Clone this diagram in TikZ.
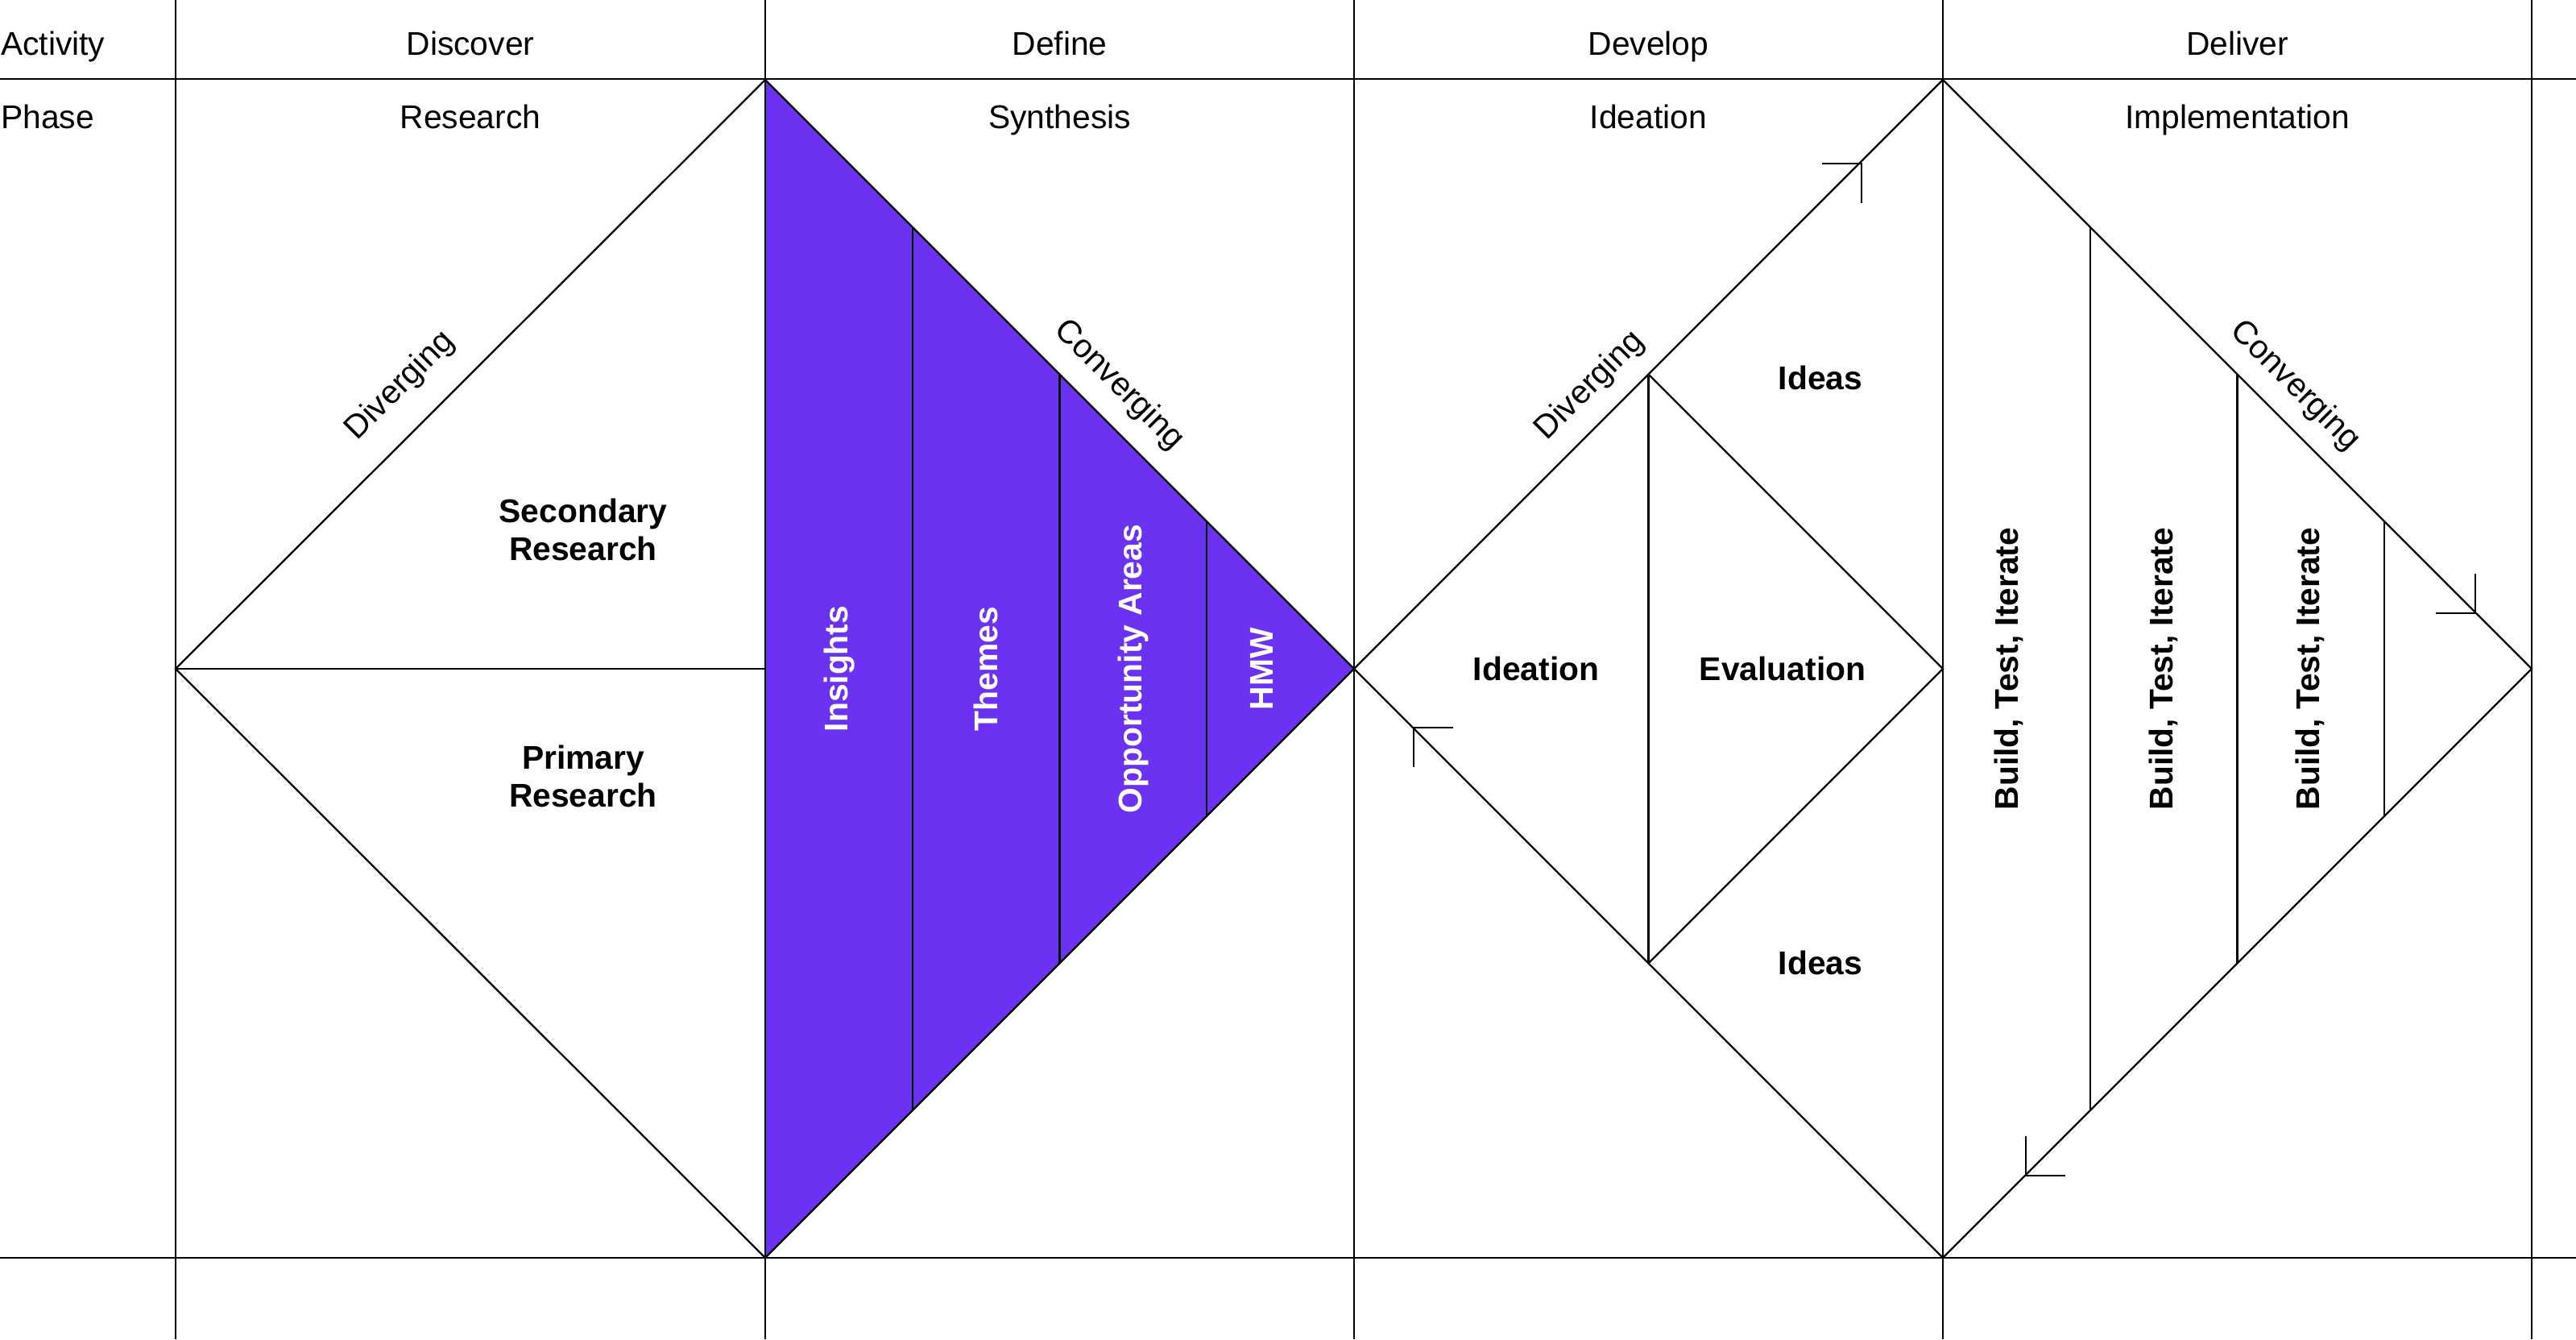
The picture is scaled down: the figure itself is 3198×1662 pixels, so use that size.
\documentclass[tikz,border=0pt]{standalone}
\usepackage{fontspec}
\setmainfont{Liberation Sans}
\definecolor{purp}{RGB}{108,50,242}
\begin{document}
\begin{tikzpicture}[x=0.01cm,y=-0.01cm, line width=0.65pt, line join=miter,
  lbl/.style={inner sep=0pt, font=\fontsize{11.6}{13.4}\selectfont},
  blbl/.style={inner sep=0pt, font=\fontsize{11.6}{13.4}\selectfont\bfseries, align=center},
  wlbl/.style={blbl, text=white, rotate=90},
  vlbl/.style={blbl, rotate=90}]
\useasboundingbox (0,0) rectangle (3198,1662);
\fill[white] (0,0) rectangle (3198,1662);
% key points
\coordinate (L1) at (218,830);
\coordinate (T1) at (950,99);
\coordinate (B1) at (950,1561);
\coordinate (R1) at (1681,830);
\coordinate (T2) at (2412,99);
\coordinate (B2) at (2412,1561);
\coordinate (R2) at (3143,830);
\coordinate (M1) at (950,830);
\coordinate (M2) at (2412,830);
\coordinate (IT) at (2046.5,464.5);
\coordinate (IB) at (2046.5,1195.5);
% purple triangle
\fill[purp] (T1) -- (R1) -- (B1) -- cycle;
% grid
\draw (0,98) -- (3198,98);
\draw (0,1561) -- (3198,1561);
\foreach \x in {218,950,1681,2412,3143} \draw (\x,0) -- (\x,1662);
% diamonds
\draw (L1) -- (T1) -- (R1) -- (B1) -- cycle;
\draw (L1) -- (M1);
\draw (R1) -- (T2) -- (R2) -- (B2) -- cycle;
\foreach \d in {182.75,365.5,548.25} {
  \draw (950+\d,99+\d) -- (950+\d,1561-\d);
  \draw (2412+\d,99+\d) -- (2412+\d,1561-\d);
}
\draw (IT) -- (IB);
\draw (IT) -- (M2) -- (IB);
% arrow marks
\draw (2262,203) -- (2311,203) -- (2311,252);
\draw (3073,712) -- (3073,761) -- (3024,761);
\draw (2515,1410) -- (2515,1459) -- (2564,1459);
\draw (1804,903) -- (1755,903) -- (1755,952);
% header texts
\node[lbl, anchor=base west] (act) at (0,68) {Activity};
\node[lbl, anchor=base west] (pha) at (0,159) {Phase};
\node[lbl, anchor=base] (h1) at (584,68) {Discover};
\node[lbl, anchor=base] (h2) at (1315.5,68) {Define};
\node[lbl, anchor=base] (h3) at (2046.5,68) {Develop};
\node[lbl, anchor=base] (h4) at (2777.5,68) {Deliver};
\node[lbl, anchor=base] (p1) at (584,159) {Research};
\node[lbl, anchor=base] (p2) at (1315.5,159) {Synthesis};
\node[lbl, anchor=base] (p3) at (2046.5,159) {Ideation};
\node[lbl, anchor=base] (p4) at (2777.5,159) {Implementation};
% diagonal labels
\node[lbl, rotate=45] (dv1) at (497,479) {Diverging};
\node[lbl, rotate=-45] (cv1) at (1389,478) {Converging};
\node[lbl, rotate=45] (dv2) at (1974,479) {Diverging};
\node[lbl, rotate=-45] (cv2) at (2849,479) {Converging};
% diamond 1 labels
\node[blbl] (sec) at (724,657) {Secondary\\Research};
\node[blbl] (pri) at (724,963) {Primary\\Research};
\node[wlbl] (ins) at (1042,830) {Insights};
\node[wlbl] (thm) at (1224,830) {Themes};
\node[wlbl] (opp) at (1407,830) {Opportunity Areas};
\node[wlbl] (hmw) at (1566,830) {HMW};
% diamond 2 labels
\node[blbl] (id1) at (2260,469) {Ideas};
\node[blbl] (idn) at (1907,830) {Ideation};
\node[blbl] (evl) at (2213,830) {Evaluation};
\node[blbl] (id2) at (2260,1195) {Ideas};
\node[vlbl] (b1) at (2494,830) {Build, Test, Iterate};
\node[vlbl] (b2) at (2686,830) {Build, Test, Iterate};
\node[vlbl] (b3) at (2868,830) {Build, Test, Iterate};
\end{tikzpicture}
\end{document}
